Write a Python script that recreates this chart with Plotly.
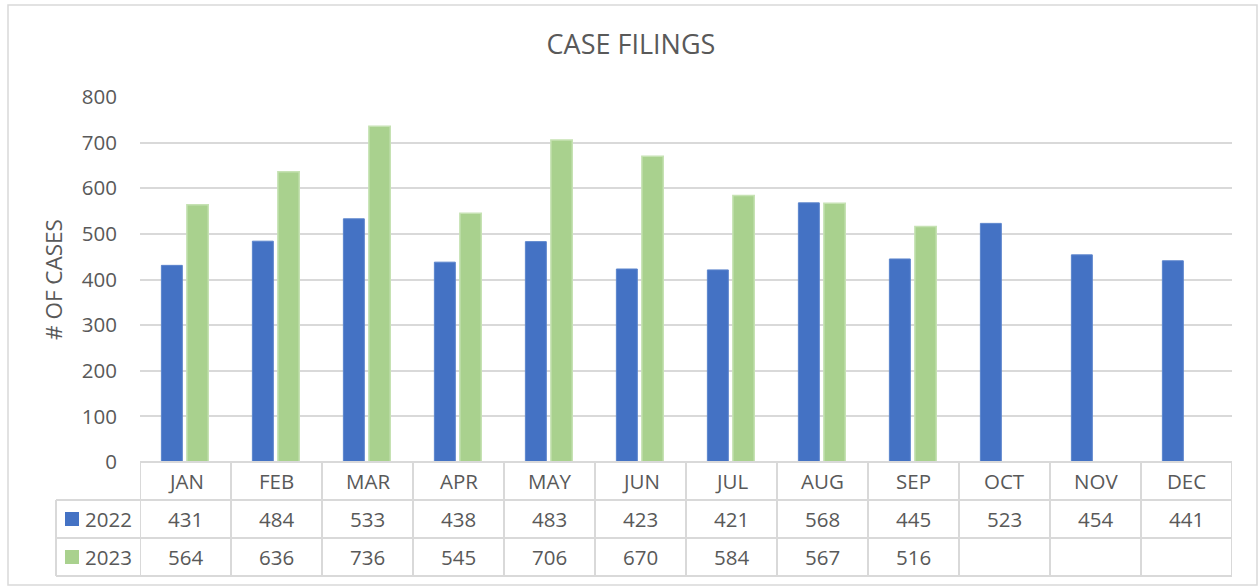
import plotly.graph_objects as go

months = ["JAN", "FEB", "MAR", "APR", "MAY", "JUN", "JUL", "AUG", "SEP", "OCT", "NOV", "DEC"]
series_names = ["2022", "2023"]
cases_2022 = [431, 484, 533, 438, 483, 423, 421, 568, 445, 523, 454, 441]
cases_2023 = [564, 636, 736, 545, 706, 670, 584, 567, 516, None, None, None]
y_ticks = [0, 100, 200, 300, 400, 500, 600, 700, 800]

BLUE = "#4472C4"
GREEN = "#A9D18E"
GRID = "#D9D9D9"
TXT = "#595959"
FONT = "Open Sans"
FS = 20.5

W, H = 1258, 586
ML, MR, MT, MB = 140, 26, 97, 124
PH = H - MT - MB
PW = W - ML - MR

def py(pix):  # pixel y -> paper y
    return (H - MB - pix) / PH

def px(pix):  # pixel x -> paper x
    return (pix - ML) / PW

xs = list(range(len(months)))

fig = go.Figure()
fig.add_trace(go.Bar(x=xs, y=cases_2022, name=series_names[0], width=0.23, offset=-0.265,
                     marker=dict(color=BLUE, line=dict(color="#5b84cc", width=1))))
fig.add_trace(go.Bar(x=xs, y=cases_2023, name=series_names[1], width=0.235, offset=0.015,
                     marker=dict(color=GREEN, line=dict(color="#c6e2b3", width=1.5))))

shapes = []
annotations = []
row_y = [py(462), py(500), py(538), py(576)]
line = dict(color=GRID, width=2)

# horizontal table lines
shapes.append(dict(type="line", xref="x", yref="paper", x0=-0.5, x1=len(months) - 0.5,
                   y0=row_y[0], y1=row_y[0], line=line))
for ry in row_y[1:]:
    shapes.append(dict(type="line", xref="paper", yref="paper", x0=px(56), x1=1, y0=ry, y1=ry, line=line))
# vertical table lines
for i in range(len(months) + 1):
    shapes.append(dict(type="line", xref="x", yref="paper", x0=i - 0.5, x1=i - 0.5,
                       y0=row_y[0], y1=row_y[3], line=line))
shapes.append(dict(type="line", xref="paper", yref="paper", x0=px(56), x1=px(56),
                   y0=row_y[1], y1=row_y[3], line=line))

# header labels
for i, m in enumerate(months):
    annotations.append(dict(x=i, y=(row_y[0] + row_y[1]) / 2, xref="x", yref="paper", text=m, showarrow=False,
                            xanchor="center", yanchor="middle",
                            font=dict(family=FONT, size=FS, color=TXT)))
# data cells
for r, (name, vals, col) in enumerate([(series_names[0], cases_2022, BLUE),
                                       (series_names[1], cases_2023, GREEN)]):
    yc = (row_y[r + 1] + row_y[r + 2]) / 2
    for i, v in enumerate(vals):
        if v is not None:
            annotations.append(dict(x=i, y=yc, xref="x", yref="paper", text=str(v), showarrow=False,
                                    xanchor="center", yanchor="middle",
                                    font=dict(family=FONT, size=FS, color=TXT)))
    # legend key
    shapes.append(dict(type="rect", xref="paper", yref="paper", x0=px(65), x1=px(79),
                       y0=yc - 7 / PH, y1=yc + 7 / PH, fillcolor=col, line=dict(width=0)))
    annotations.append(dict(x=px(83), y=yc, xref="paper", yref="paper", text=name, showarrow=False,
                            xanchor="left", yanchor="middle",
                            font=dict(family=FONT, size=FS, color=TXT)))

# outer chart border
shapes.append(dict(type="rect", xref="paper", yref="paper", x0=px(8), x1=px(1257), y0=py(585), y1=py(5),
                   line=dict(color=GRID, width=1.5), fillcolor="rgba(0,0,0,0)", layer="below"))

fig.update_layout(
    width=W, height=H,
    margin=dict(l=ML, r=MR, t=MT, b=MB),
    paper_bgcolor="white", plot_bgcolor="white",
    barmode="group",
    showlegend=False,
    title=dict(text="CASE FILINGS", x=(W / 2 + 2 - ML) / PW, xref="paper", xanchor="center",
               y=1 - 45 / H, yanchor="middle", font=dict(family=FONT, size=27, color=TXT)),
    xaxis=dict(range=[-0.5, len(months) - 0.5], showticklabels=False, showgrid=False,
               zeroline=False, showline=False, ticks=""),
    yaxis=dict(range=[0, 800], tickvals=y_ticks, gridcolor=GRID, gridwidth=2, zeroline=False, showline=False,
               tickfont=dict(family=FONT, size=FS, color=TXT), ticks="", ticklabelstandoff=22,
               title=dict(text="# OF CASES", font=dict(family=FONT, size=22.5, color=TXT), standoff=12)),
    shapes=shapes, annotations=annotations,
    font=dict(family=FONT, color=TXT),
)

fig.write_html("out.html", config={"displayModeBar": False},
               post_script="document.body.style.margin='0';document.body.style.padding='0';")
